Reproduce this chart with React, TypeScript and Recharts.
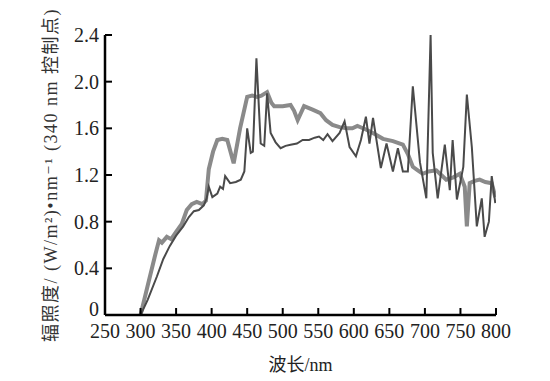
import { LineChart, Line, XAxis, YAxis, Label } from "recharts";

// thick light trace
const wavelengthsA = [
  300, 310, 320, 326, 330, 337, 343, 351, 358, 365, 372, 379, 387, 392, 396, 402, 408, 415, 422, 431,
  440, 450, 457, 464, 470, 478, 484, 488, 500, 511, 516, 521, 530, 542, 553, 561, 570, 580, 590, 598,
  605, 617, 630, 641, 655, 669, 676, 683, 690, 697, 705, 716, 723, 730, 740, 749, 756, 759, 763, 770,
  777, 785, 794, 799,
];
const irradianceA = [
  0, 0.25, 0.5, 0.64, 0.62, 0.67, 0.65, 0.72, 0.78, 0.9, 0.95, 0.97, 0.95, 0.98, 1.25, 1.4, 1.5, 1.51, 1.5, 1.3,
  1.6, 1.87, 1.88, 1.87, 1.88, 1.91, 1.82, 1.79, 1.79, 1.8, 1.75, 1.67, 1.79, 1.76, 1.73, 1.67, 1.63, 1.61, 1.6, 1.6,
  1.62, 1.59, 1.55, 1.51, 1.49, 1.46, 1.38, 1.27, 1.24, 1.21, 1.23, 1.24, 1.2, 1.16, 1.18, 1.21, 1.1, 0.76, 1.13, 1.15,
  1.16, 1.14, 1.13, 1.01,
];

// thin dark trace
const wavelengthsB = [
  300, 310, 323, 332, 341, 350, 360, 368, 375, 382, 389, 393, 396, 401, 408, 412, 416, 419, 426, 434,
  441, 446, 450, 455, 458, 463, 469, 474, 478, 483, 490, 497, 504, 511, 520, 528, 537, 545, 551, 557,
  563, 570, 580, 587, 594, 603, 610, 617, 622, 627, 638, 646, 655, 662, 669, 676, 683, 693, 702, 708,
  711, 718, 728, 735, 739, 745, 754, 759, 766, 773, 780, 784, 790, 794, 799,
];
const irradianceB = [
  0, 0.13, 0.33, 0.48, 0.59, 0.68, 0.76, 0.84, 0.89, 0.9, 0.94, 1.0, 1.1, 1.01, 1.04, 1.1, 1.08, 1.19, 1.13, 1.14,
  1.16, 1.23, 1.6, 1.39, 1.4, 2.2, 1.47, 1.45, 1.9, 1.56, 1.48, 1.43, 1.45, 1.46, 1.47, 1.5, 1.5, 1.52, 1.53, 1.5,
  1.55, 1.49, 1.56, 1.66, 1.44, 1.36, 1.5, 1.7, 1.47, 1.69, 1.26, 1.47, 1.23, 1.43, 1.23, 1.23, 1.96, 1.31, 1.0, 2.4,
  1.39, 1.0, 1.46, 1.07, 1.5, 0.99, 1.27, 1.89, 1.44, 0.76, 1.0, 0.67, 0.8, 1.19, 0.96,
];

const xTicks = [250, 300, 350, 400, 450, 500, 550, 600, 650, 700, 750, 800];
const yTicks = [0, 0.4, 0.8, 1.2, 1.6, 2.0, 2.4];

const seriesA = wavelengthsA.map((wl, i) => ({ wl, v: irradianceA[i] }));
const seriesB = wavelengthsB.map((wl, i) => ({ wl, v: irradianceB[i] }));

const FONT = "'Liberation Serif', 'Times New Roman', 'DejaVu Serif', 'Noto Sans CJK SC', serif";
const TICK_LEN = 7;
const MARGIN = 6;

const XTick = ({ x, y, payload }: any) => (
  <g>
    <line x1={x} x2={x} y1={y - MARGIN} y2={y - MARGIN - TICK_LEN} stroke="#000" strokeWidth={2} />
    <text x={x} y={y + 17} textAnchor="middle" fontSize={20} fontFamily={FONT} fill="#222">
      {payload.value}
    </text>
  </g>
);

const YTick = ({ x, y, payload }: any) => (
  <g>
    <line x1={x + MARGIN} x2={x + MARGIN + TICK_LEN} y1={y} y2={y} stroke="#000" strokeWidth={2} />
    <text x={x} y={payload.value === 0 ? y + 1 : y + 7} textAnchor="end" fontSize={20} fontFamily={FONT} fill="#222">
      {payload.value === 0 ? "0" : payload.value.toFixed(1)}
    </text>
  </g>
);

export default function App() {
  return (
    <div style={{ position: "absolute", left: 0, top: 0, width: 550, height: 381, background: "#fff" }}>
      <LineChart width={550} height={381} margin={{ top: 35, right: 54, left: 0, bottom: 6 }}>
        <XAxis
          type="number"
          dataKey="wl"
          domain={[250, 800]}
          ticks={xTicks}
          allowDataOverflow
          height={60}
          tickSize={0}
          tickMargin={MARGIN}
          tick={<XTick />}
          axisLine={{ stroke: "#000", strokeWidth: 2.5 }}
          interval={0}
        >
          <Label
            value="波长/nm"
            position="insideBottom"
            offset={4}
            style={{ fontSize: 18, fontFamily: FONT, fill: "#222" }}
          />
        </XAxis>
        <YAxis
          type="number"
          domain={[0, 2.4]}
          ticks={yTicks}
          width={105}
          tickSize={0}
          tickMargin={MARGIN}
          tick={<YTick />}
          axisLine={{ stroke: "#000", strokeWidth: 2.5 }}
          interval={0}
        >
          <Label
            value="辐照度/ (W/m²)•nm⁻¹ (340 nm 控制点)"
            angle={-90}
            position="center"
            dx={-2}
            style={{ fontSize: 18, fontFamily: FONT, fill: "#333", textAnchor: "middle", letterSpacing: 1.5 }}
          />
        </YAxis>
        <Line
          data={seriesA}
          dataKey="v"
          type="linear"
          stroke="#8a8a8a"
          strokeWidth={4}
          dot={false}
          isAnimationActive={false}
        />
        <Line
          data={seriesB}
          dataKey="v"
          type="linear"
          stroke="#4a4a4a"
          strokeWidth={2}
          dot={false}
          isAnimationActive={false}
        />
      </LineChart>
    </div>
  );
}
